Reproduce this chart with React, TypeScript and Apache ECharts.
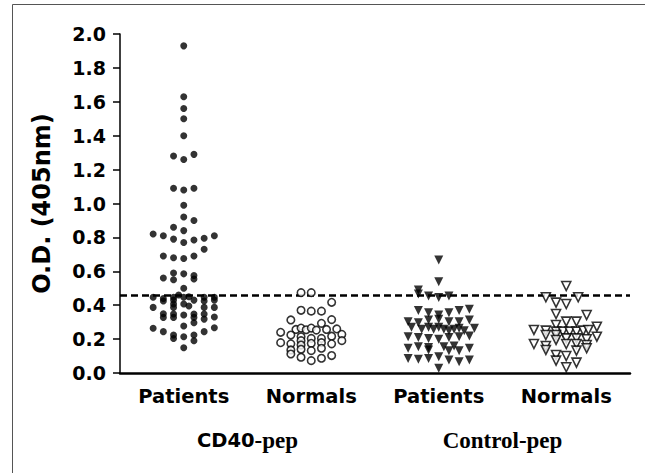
import React, { useEffect, useRef } from "react";
import * as echarts from "echarts";

// Category labels
const subCategories = ["Patients", "Normals", "Patients", "Normals"];
const groupCategories = ["CD40-pep", "Control-pep"];
const yTicks = [0, 0.2, 0.4, 0.6, 0.8, 1.0, 1.2, 1.4, 1.6, 1.8, 2.0];
const cutoff = 0.455;

// Each point: [column offset within the group (beeswarm column), O.D. value]
const cd40Patients: [number, number][] = [
  [0, 1.93], [0, 1.63], [0, 1.56], [0, 1.5], [0, 1.4], [-1, 1.28], [0, 1.26], [1, 1.29],
  [-1, 1.09], [0, 1.08], [1, 1.09], [0, 0.99],
  [0, 0.92], [1, 0.9], [-1, 0.86], [0, 0.84], [-3, 0.82], [-2, 0.81], [-1, 0.79], [0, 0.77],
  [1, 0.785], [2, 0.795], [3, 0.81], [2, 0.73],
  [-2, 0.69], [-1, 0.68], [0, 0.675], [1, 0.69],
  [-2, 0.56], [-1, 0.59], [-1, 0.55], [0, 0.585], [1, 0.575], [1, 0.555],
  [0, 0.5],
  [-3, 0.447], [-2, 0.44], [-1, 0.447], [-0.5, 0.46], [0, 0.447], [0.5, 0.45], [2, 0.447], [3, 0.447],
  [-2, 0.425], [-1, 0.43], [1, 0.43], [2, 0.425], [3, 0.43],
  [-1, 0.407], [0, 0.407], [0.5, 0.395],
  [-3, 0.387], [-1, 0.387], [2, 0.387], [3, 0.387],
  [-2, 0.35], [-1, 0.348], [0, 0.342], [1, 0.348], [2, 0.348],
  [-2, 0.328], [-1, 0.328], [1, 0.328], [2, 0.318], [3, 0.33],
  [0, 0.277], [1, 0.297],
  [-3, 0.264], [-2, 0.244], [3, 0.267], [2, 0.244],
  [-1, 0.224], [-1, 0.204], [0, 0.214], [1, 0.224], [1, 0.19],
  [0, 0.149],
];

const cd40Normals: [number, number][] = [
  [-1, 0.474], [0, 0.474], [2, 0.417],
  [-1, 0.37], [0, 0.365], [1, 0.365],
  [-2, 0.313], [2, 0.315], [1, 0.293],
  [-1.5, 0.257], [-1, 0.265], [-0.5, 0.255], [0, 0.265], [0.5, 0.253], [1.5, 0.257], [2.5, 0.26],
  [-3, 0.24], [-2, 0.224], [-1, 0.214], [0, 0.204], [1, 0.204], [2, 0.217], [3, 0.228], [3, 0.191],
  [-3, 0.179], [-2, 0.172], [-1, 0.191], [-1, 0.165], [0, 0.175], [1, 0.179], [2, 0.172],
  [-2, 0.136], [-1, 0.14], [0, 0.132], [1, 0.146],
  [-2, 0.112], [-1, 0.093], [1, 0.087], [2, 0.103],
  [0, 0.073],
];

const controlPatients: [number, number][] = [
  [0, 0.667], [0, 0.539], [-2, 0.49],
  [-2, 0.466], [-1, 0.454], [0, 0.446], [1, 0.454],
  [-2, 0.368], [-1, 0.356], [0, 0.342], [1, 0.356], [2, 0.368], [3, 0.376],
  [-3, 0.303], [-2, 0.297], [-1, 0.313], [0, 0.317], [1, 0.303], [2, 0.303], [3, 0.313],
  [-2.67, 0.27], [-1.67, 0.258], [-1, 0.27], [-0.5, 0.258], [0, 0.27], [0.5, 0.258], [1, 0.25],
  [1.5, 0.258], [2, 0.264], [2.5, 0.25], [3.5, 0.264],
  [-3, 0.214], [-2, 0.21], [-1, 0.204], [0, 0.199], [1, 0.21], [2, 0.214], [3, 0.218],
  [-3, 0.146], [-2, 0.155], [-1, 0.151], [-1, 0.136], [0.5, 0.155], [1.5, 0.159], [1, 0.132],
  [2, 0.132], [3, 0.146],
  [-3, 0.086], [-2, 0.081], [-1, 0.086], [0, 0.096], [1, 0.077], [2, 0.067], [3, 0.077],
  [0, 0.028],
];

const controlNormals: [number, number][] = [
  [0, 0.513], [-2, 0.447], [1.17, 0.447],
  [-1, 0.415], [0, 0.407],
  [-1, 0.348], [2, 0.342], [0, 0.303], [1, 0.303],
  [-1, 0.283], [3, 0.273],
  [-3.17, 0.254], [-2, 0.25], [-1, 0.244], [-0.33, 0.244], [0.33, 0.244], [1, 0.244], [1.67, 0.25], [2.17, 0.254],
  [-2, 0.224], [-1, 0.224],
  [3, 0.214], [-1, 0.195], [0, 0.204], [1, 0.204], [2, 0.199],
  [-3.17, 0.171], [-2, 0.159], [0, 0.171], [1, 0.171], [2, 0.165],
  [-2, 0.136], [1, 0.132], [2, 0.146],
  [-1, 0.106], [0, 0.1],
  [-1, 0.073], [1, 0.061],
  [0, 0.034],
];

const COL_WIDTH = 0.08; // horizontal spacing between beeswarm columns, in category units

const toPoints = (groupIndex: number, pts: [number, number][]) =>
  pts.map(([c, v]) => [groupIndex + c * COL_WIDTH, v]);

const SANS = "'DejaVu Sans', 'Liberation Sans', Arial, sans-serif";
const SERIF = "'Liberation Serif', 'Times New Roman', serif";

export default function App() {
  const ref = useRef<HTMLDivElement>(null);

  useEffect(() => {
    document.body.style.margin = "0";
    if (!ref.current) return;
    const chart = echarts.init(ref.current, undefined, { renderer: "svg" });

    const option: any = {
      animation: false,
      backgroundColor: "#ffffff",
      grid: { left: 120, right: 15, top: 34, bottom: 100, containLabel: false, outerBoundsMode: "none" },
      graphic: [
        {
          type: "rect",
          shape: { x: 12.5, y: 4.5, width: 700, height: 600 },
          style: { fill: "none", stroke: "#555", lineWidth: 1 },
          silent: true,
          z: -10,
        },
      ],
      xAxis: [
        {
          type: "category",
          data: subCategories,
          position: "bottom",
          axisLine: { onZero: false, lineStyle: { color: "#000", width: 2.5 } },
          axisTick: { show: false },
          axisLabel: {
            color: "#000",
            fontFamily: SANS,
            fontWeight: "bold",
            fontSize: 19.5,
            margin: 13,
          },
          splitLine: { show: false },
        },
        {
          type: "category",
          data: groupCategories,
          position: "bottom",
          offset: 46,
          axisLine: { show: false, onZero: false },
          axisTick: { show: false },
          axisLabel: {
            margin: 10,
            formatter: (v: string) => {
              if (v === "CD40-pep") return "{s|CD40}{t|-pep}";
              return "{t|" + v + "}";
            },
            rich: {
              s: { fontFamily: SANS, fontWeight: "bold", fontSize: 19.5, color: "#000" },
              t: { fontFamily: SERIF, fontWeight: "bold", fontSize: 23, color: "#000" },
            },
          },
          splitLine: { show: false },
        },
        {
          type: "value",
          min: -0.5,
          max: 3.5,
          show: false,
          axisLine: { onZero: false },
        },
      ],
      yAxis: {
        type: "value",
        min: 0,
        max: 2,
        interval: 0.2,
        name: "O.D. (405nm)",
        nameLocation: "middle",
        nameGap: 66,
        nameRotate: 90,
        nameTextStyle: { fontFamily: SANS, fontWeight: "bold", fontSize: 24, color: "#000" },
        axisLine: { show: true, onZero: false, lineStyle: { color: "#000", width: 1.5 } },
        axisTick: { show: true, length: 7, lineStyle: { color: "#000", width: 1.5 } },
        axisLabel: {
          color: "#000",
          fontFamily: SANS,
          fontWeight: "bold",
          fontSize: 19,
          margin: 14,
          formatter: (v: number) => (yTicks.some((t) => Math.abs(t - v) < 1e-6) ? v.toFixed(1) : ""),
        },
        splitLine: { show: false },
      },
      series: [
        {
          type: "scatter",
          xAxisIndex: 2,
          data: toPoints(0, cd40Patients),
          symbol: "circle",
          symbolSize: 7,
          itemStyle: { color: "#000" },
          markLine: {
            silent: true,
            symbol: ["none", "none"],
            label: { show: false },
            lineStyle: { color: "#000", width: 2.5, type: [7, 4] },
            data: [{ yAxis: cutoff }],
            z: 1,
          },
        },
        {
          type: "scatter",
          xAxisIndex: 2,
          data: toPoints(1, cd40Normals),
          symbol: "circle",
          symbolSize: 7.5,
          itemStyle: { color: "#fff", borderColor: "#000", borderWidth: 1.6 },
        },
        {
          type: "scatter",
          xAxisIndex: 2,
          data: toPoints(2, controlPatients),
          symbol: "triangle",
          symbolRotate: 180,
          symbolSize: 9,
          itemStyle: { color: "#000" },
        },
        {
          type: "scatter",
          xAxisIndex: 2,
          data: toPoints(3, controlNormals),
          symbol: "triangle",
          symbolRotate: 180,
          symbolSize: 9,
          itemStyle: { color: "#fff", borderColor: "#000", borderWidth: 1.6 },
        },
      ],
    };

    chart.setOption(option);
    return () => chart.dispose();
  }, []);

  return <div ref={ref} style={{ width: 645, height: 473 }} />;
}
